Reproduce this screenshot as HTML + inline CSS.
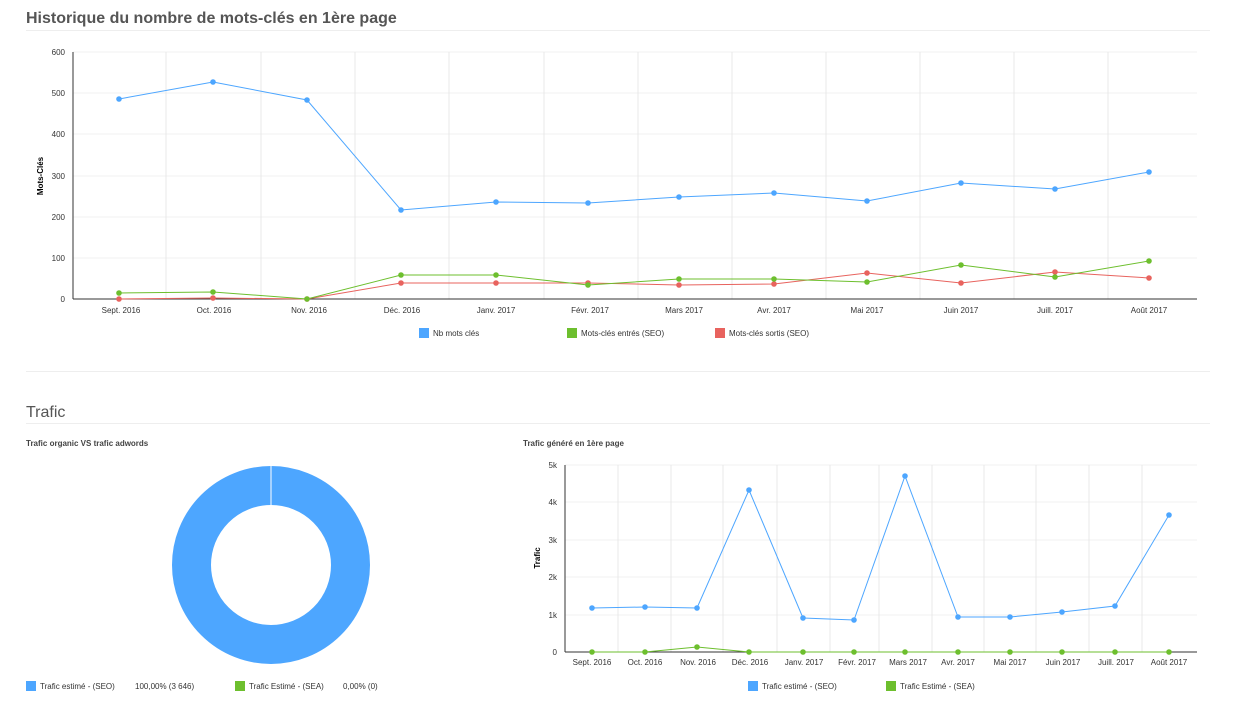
<!DOCTYPE html>
<html><head><meta charset="utf-8"><style>
body{margin:0;width:1233px;height:700px;background:#fff;font-family:"Liberation Sans",sans-serif;overflow:hidden}
</style></head><body>
<svg width="1233" height="700" xmlns="http://www.w3.org/2000/svg" font-family="Liberation Sans, sans-serif">
<text x="26" y="23" font-size="16" font-weight="bold" fill="#555">Historique du nombre de mots-clés en 1ère page</text>
<line x1="26" y1="30.5" x2="1210" y2="30.5" stroke="#eee"/>
<g stroke="#f2f2f2">
<line x1="73" y1="52" x2="1197" y2="52"/><line x1="73" y1="93" x2="1197" y2="93"/><line x1="73" y1="134" x2="1197" y2="134"/><line x1="73" y1="176" x2="1197" y2="176"/><line x1="73" y1="217" x2="1197" y2="217"/><line x1="73" y1="258" x2="1197" y2="258"/>
</g>
<g stroke="#e8e8e8">
<line x1="166" y1="52" x2="166" y2="299"/><line x1="261" y1="52" x2="261" y2="299"/><line x1="355" y1="52" x2="355" y2="299"/><line x1="449" y1="52" x2="449" y2="299"/><line x1="544" y1="52" x2="544" y2="299"/><line x1="638" y1="52" x2="638" y2="299"/><line x1="732" y1="52" x2="732" y2="299"/><line x1="826" y1="52" x2="826" y2="299"/><line x1="920" y1="52" x2="920" y2="299"/><line x1="1014" y1="52" x2="1014" y2="299"/><line x1="1108" y1="52" x2="1108" y2="299"/>
</g>
<line x1="73" y1="52" x2="73" y2="299" stroke="#333"/>
<line x1="73" y1="299" x2="1197" y2="299" stroke="#333"/>
<g font-size="8" fill="#333" text-anchor="end">
<text x="65" y="55">600</text><text x="65" y="96">500</text><text x="65" y="137">400</text><text x="65" y="179">300</text><text x="65" y="220">200</text><text x="65" y="261">100</text><text x="65" y="302">0</text>
</g>
<text transform="translate(43,176) rotate(-90)" font-size="8" font-weight="bold" text-anchor="middle" fill="#000">Mots-Clés</text>
<g font-size="8" fill="#333" text-anchor="middle">
<text x="121" y="313">Sept. 2016</text><text x="214" y="313">Oct. 2016</text><text x="309" y="313">Nov. 2016</text><text x="402" y="313">Déc. 2016</text><text x="496" y="313">Janv. 2017</text><text x="590" y="313">Févr. 2017</text><text x="684" y="313">Mars 2017</text><text x="774" y="313">Avr. 2017</text><text x="867" y="313">Mai 2017</text><text x="961" y="313">Juin 2017</text><text x="1055" y="313">Juill. 2017</text><text x="1149" y="313">Août 2017</text>
</g>
<polyline fill="none" stroke="#4da6ff" points="119,99 213,82 307,100 401,210 496,202 588,203 679,197 774,193 867,201 961,183 1055,189 1149,172"/>
<polyline fill="none" stroke="#e8635e" points="119,299 213,298 307,299 401,283 496,283 588,283 679,285 774,284 867,273 961,283 1055,272 1149,278"/>
<polyline fill="none" stroke="#6dbf2e" points="119,293 213,292 307,299 401,275 496,275 588,285 679,279 774,279 867,282 961,265 1055,277 1149,261"/>
<g fill="#4da6ff"><circle cx="119" cy="99" r="2.8"/><circle cx="213" cy="82" r="2.8"/><circle cx="307" cy="100" r="2.8"/><circle cx="401" cy="210" r="2.8"/><circle cx="496" cy="202" r="2.8"/><circle cx="588" cy="203" r="2.8"/><circle cx="679" cy="197" r="2.8"/><circle cx="774" cy="193" r="2.8"/><circle cx="867" cy="201" r="2.8"/><circle cx="961" cy="183" r="2.8"/><circle cx="1055" cy="189" r="2.8"/><circle cx="1149" cy="172" r="2.8"/></g>
<g fill="#e8635e"><circle cx="119" cy="299" r="2.8"/><circle cx="213" cy="298" r="2.8"/><circle cx="307" cy="299" r="2.8"/><circle cx="401" cy="283" r="2.8"/><circle cx="496" cy="283" r="2.8"/><circle cx="588" cy="283" r="2.8"/><circle cx="679" cy="285" r="2.8"/><circle cx="774" cy="284" r="2.8"/><circle cx="867" cy="273" r="2.8"/><circle cx="961" cy="283" r="2.8"/><circle cx="1055" cy="272" r="2.8"/><circle cx="1149" cy="278" r="2.8"/></g>
<g fill="#6dbf2e"><circle cx="119" cy="293" r="2.8"/><circle cx="213" cy="292" r="2.8"/><circle cx="307" cy="299" r="2.8"/><circle cx="401" cy="275" r="2.8"/><circle cx="496" cy="275" r="2.8"/><circle cx="588" cy="285" r="2.8"/><circle cx="679" cy="279" r="2.8"/><circle cx="774" cy="279" r="2.8"/><circle cx="867" cy="282" r="2.8"/><circle cx="961" cy="265" r="2.8"/><circle cx="1055" cy="277" r="2.8"/><circle cx="1149" cy="261" r="2.8"/></g>
<g font-size="8" fill="#333">
<rect x="419" y="328" width="10" height="10" fill="#4da6ff"/><text x="433" y="336">Nb mots clés</text>
<rect x="567" y="328" width="10" height="10" fill="#6dbf2e"/><text x="581" y="336">Mots-clés entrés (SEO)</text>
<rect x="715" y="328" width="10" height="10" fill="#e8635e"/><text x="729" y="336">Mots-clés sortis (SEO)</text>
</g>
<line x1="26" y1="371.5" x2="1210" y2="371.5" stroke="#eee"/>
<text x="26" y="417" font-size="16" fill="#555">Trafic</text>
<line x1="26" y1="423.5" x2="1210" y2="423.5" stroke="#eee"/>
<text x="26" y="446" font-size="8" font-weight="bold" fill="#444">Trafic organic VS trafic adwords</text>
<circle cx="271" cy="565" r="79.5" fill="none" stroke="#4da6ff" stroke-width="39"/>
<line x1="271" y1="466" x2="271" y2="505" stroke="#fff" stroke-width="1"/>
<g font-size="8" fill="#333">
<rect x="26" y="681" width="10" height="10" fill="#4da6ff"/><text x="40" y="689">Trafic estimé - (SEO)</text><text x="135" y="689">100,00% (3 646)</text>
<rect x="235" y="681" width="10" height="10" fill="#6dbf2e"/><text x="249" y="689">Trafic Estimé - (SEA)</text><text x="343" y="689">0,00% (0)</text>
</g>
<text x="523" y="446" font-size="8" font-weight="bold" fill="#444">Trafic généré en 1ère page</text>
<g stroke="#f2f2f2">
<line x1="565" y1="465" x2="1197" y2="465"/><line x1="565" y1="502" x2="1197" y2="502"/><line x1="565" y1="540" x2="1197" y2="540"/><line x1="565" y1="577" x2="1197" y2="577"/><line x1="565" y1="615" x2="1197" y2="615"/>
</g>
<g stroke="#e8e8e8">
<line x1="618" y1="465" x2="618" y2="652"/><line x1="671" y1="465" x2="671" y2="652"/><line x1="723" y1="465" x2="723" y2="652"/><line x1="777" y1="465" x2="777" y2="652"/><line x1="830" y1="465" x2="830" y2="652"/><line x1="879" y1="465" x2="879" y2="652"/><line x1="932" y1="465" x2="932" y2="652"/><line x1="984" y1="465" x2="984" y2="652"/><line x1="1036" y1="465" x2="1036" y2="652"/><line x1="1089" y1="465" x2="1089" y2="652"/><line x1="1142" y1="465" x2="1142" y2="652"/>
</g>
<line x1="565" y1="465" x2="565" y2="652" stroke="#333"/>
<line x1="565" y1="652" x2="1197" y2="652" stroke="#333"/>
<g font-size="8" fill="#333" text-anchor="end">
<text x="557" y="468">5k</text><text x="557" y="505">4k</text><text x="557" y="543">3k</text><text x="557" y="580">2k</text><text x="557" y="618">1k</text><text x="557" y="655">0</text>
</g>
<text transform="translate(540,558) rotate(-90)" font-size="8" font-weight="bold" text-anchor="middle" fill="#000">Trafic</text>
<g font-size="8" fill="#333" text-anchor="middle">
<text x="592" y="665">Sept. 2016</text><text x="645" y="665">Oct. 2016</text><text x="698" y="665">Nov. 2016</text><text x="750" y="665">Déc. 2016</text><text x="804" y="665">Janv. 2017</text><text x="857" y="665">Févr. 2017</text><text x="908" y="665">Mars 2017</text><text x="958" y="665">Avr. 2017</text><text x="1010" y="665">Mai 2017</text><text x="1063" y="665">Juin 2017</text><text x="1116" y="665">Juill. 2017</text><text x="1169" y="665">Août 2017</text>
</g>
<polyline fill="none" stroke="#4da6ff" points="592,608 645,607 697,608 749,490 803,618 854,620 905,476 958,617 1010,617 1062,612 1115,606 1169,515"/>
<polyline fill="none" stroke="#6dbf2e" points="592,652 645,652 697,647 749,652 803,652 854,652 905,652 958,652 1010,652 1062,652 1115,652 1169,652"/>
<g fill="#4da6ff"><circle cx="592" cy="608" r="2.8"/><circle cx="645" cy="607" r="2.8"/><circle cx="697" cy="608" r="2.8"/><circle cx="749" cy="490" r="2.8"/><circle cx="803" cy="618" r="2.8"/><circle cx="854" cy="620" r="2.8"/><circle cx="905" cy="476" r="2.8"/><circle cx="958" cy="617" r="2.8"/><circle cx="1010" cy="617" r="2.8"/><circle cx="1062" cy="612" r="2.8"/><circle cx="1115" cy="606" r="2.8"/><circle cx="1169" cy="515" r="2.8"/></g>
<g fill="#6dbf2e"><circle cx="592" cy="652" r="2.8"/><circle cx="645" cy="652" r="2.8"/><circle cx="697" cy="647" r="2.8"/><circle cx="749" cy="652" r="2.8"/><circle cx="803" cy="652" r="2.8"/><circle cx="854" cy="652" r="2.8"/><circle cx="905" cy="652" r="2.8"/><circle cx="958" cy="652" r="2.8"/><circle cx="1010" cy="652" r="2.8"/><circle cx="1062" cy="652" r="2.8"/><circle cx="1115" cy="652" r="2.8"/><circle cx="1169" cy="652" r="2.8"/></g>
<g font-size="8" fill="#333">
<rect x="748" y="681" width="10" height="10" fill="#4da6ff"/><text x="762" y="689">Trafic estimé - (SEO)</text>
<rect x="886" y="681" width="10" height="10" fill="#6dbf2e"/><text x="900" y="689">Trafic Estimé - (SEA)</text>
</g>
</svg>
</body></html>
